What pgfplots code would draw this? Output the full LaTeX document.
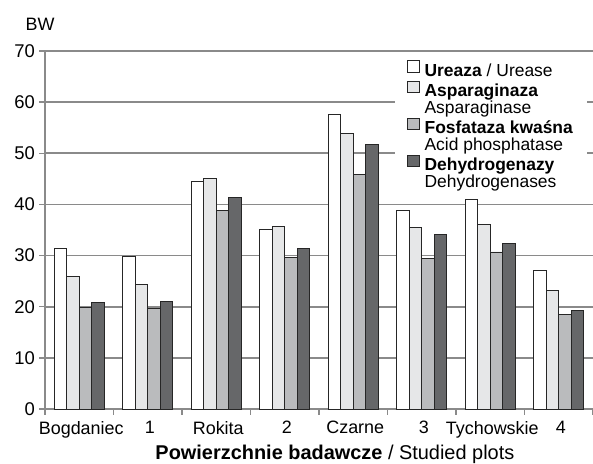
\documentclass[border=0pt]{standalone}
\usepackage{pgfplots}
\pgfplotsset{compat=1.18}
\usepackage{fontspec}
\setmainfont{Liberation Sans}
\definecolor{gridc}{HTML}{8A8A8A}
\definecolor{edgec}{HTML}{262626}
\definecolor{cA}{HTML}{FFFFFF}
\definecolor{cB}{HTML}{E6E7E8}
\definecolor{cC}{HTML}{BABBBD}
\definecolor{cD}{HTML}{666769}
\begin{document}
\begin{tikzpicture}
\useasboundingbox (-45bp,-55bp) rectangle (548bp,409bp);
\begin{axis}[
  width=548bp, height=358bp, scale only axis,
  ybar, bar width=12.5bp,
  xmin=-0.5, xmax=7.5, ymin=0, ymax=70,
  ytick={0,10,...,70},
  xtick={0,...,7},
  xticklabels={Bogdaniec,1,Rokita,2,Czarne,3,Tychowskie,4},
  minor xtick={-0.5,0.5,...,7.5},
  axis lines*=left,
  axis line style={draw=gridc, line width=1.7bp},
  ymajorgrids,
  grid style={draw=gridc, line width=1.6bp},
  tick align=outside,
  major tick length=5.5bp,
  minor tick length=5.5bp,
  xtick style={draw=none},
  ytick style={draw=gridc, line width=1.4bp},
  minor x tick style={draw=gridc, line width=1.4bp},
  /pgf/number format/assume math mode=true,
  yticklabel style={font=\fontsize{18.5}{18}\selectfont, xshift=-1bp},
  xticklabel style={font=\fontsize{18}{18}\selectfont, yshift=-3bp, xshift=2bp},
  ylabel={BW},
  every axis y label/.style={at={(axis description cs:0,1)}, anchor=base, xshift=-5bp, yshift=20.3bp, font=\fontsize{18}{18}\selectfont},
  xlabel={\textbf{Powierzchnie badawcze} / Studied plots},
  every axis x label/.style={at={(axis description cs:0.529,0)}, anchor=base, yshift=-50.5bp, font=\fontsize{20}{20}\selectfont},
  legend cell align=left,
  legend image code/.code={\draw[#1, draw=edgec, line width=0.9bp] (0bp,0bp) rectangle (11.5bp,11.5bp);},
  legend style={at={(axis description cs:0.6387,0.9804)}, anchor=north west, draw=none, fill=white,
    inner xsep=12bp, inner ysep=2bp, row sep=0bp, column sep=3bp,
    font=\fontsize{17.5}{18}\selectfont,
    nodes={inner xsep=2bp, inner ysep=0.5bp, outer sep=0bp, text height=12.2bp, text depth=3.5bp}},
]
\addplot[fill=cA, draw=edgec, line width=0.9bp, bar shift=-18.75bp] coordinates
  {(0,31.3) (1,29.8) (2,44.4) (3,35.2) (4,57.5) (5,38.8) (6,40.9) (7,27.1)};
\addlegendentry{\textbf{Ureaza} / Urease}
\addplot[fill=cB, draw=edgec, line width=0.9bp, bar shift=-6.25bp] coordinates
  {(0,25.9) (1,24.4) (2,45.1) (3,35.6) (4,53.8) (5,35.5) (6,36.1) (7,23.2)};
\addlegendentry{\textbf{Asparaginaza}}
\addlegendimage{empty legend}
\addlegendentry{Asparaginase}
\addplot[fill=cC, draw=edgec, line width=0.9bp, bar shift=6.25bp] coordinates
  {(0,19.9) (1,19.6) (2,38.8) (3,29.6) (4,45.9) (5,29.5) (6,30.7) (7,18.5)};
\addlegendentry{\textbf{Fosfataza kwaśna}}
\addlegendimage{empty legend}
\addlegendentry{Acid phosphatase}
\addplot[fill=cD, draw=edgec, line width=0.9bp, bar shift=18.75bp] coordinates
  {(0,20.8) (1,21.1) (2,41.3) (3,31.3) (4,51.7) (5,34.1) (6,32.3) (7,19.3)};
\addlegendentry{\textbf{Dehydrogenazy}}
\addlegendimage{empty legend}
\addlegendentry{Dehydrogenases}
\end{axis}
\end{tikzpicture}
\end{document}
